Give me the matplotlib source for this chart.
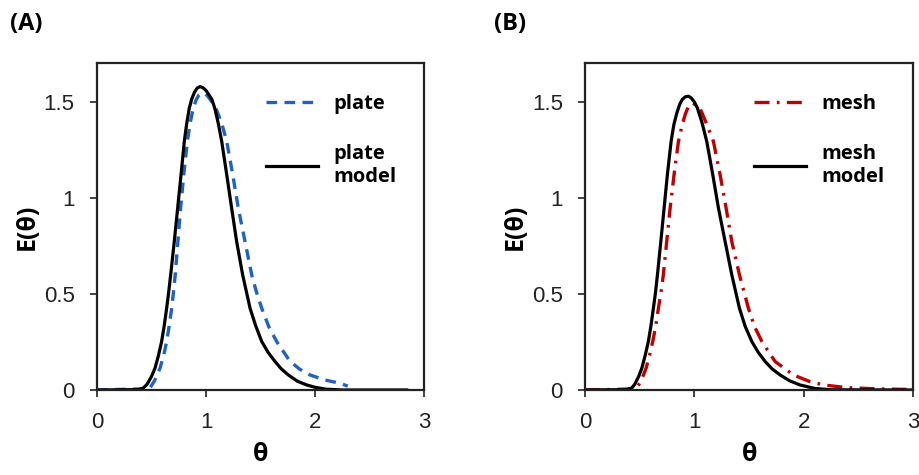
import matplotlib
matplotlib.use("Agg")
import matplotlib.pyplot as plt

# (A) plate: measured curve and model
plate_t = [0.0, 0.15, 0.3, 0.43, 0.486, 0.53, 0.578, 0.612, 0.639, 0.663, 0.685, 0.702,
           0.718, 0.742, 0.767, 0.796, 0.829, 0.855, 0.884, 0.91, 0.935, 0.96, 0.985, 1.01,
           1.04, 1.07, 1.098, 1.145, 1.19, 1.245, 1.296, 1.358, 1.419, 1.465, 1.511, 1.575,
           1.648, 1.771, 1.86, 1.954, 2.09, 2.229, 2.30]
plate_E = [0.0, 0.002, 0.004, 0.006, 0.01, 0.05, 0.113, 0.18, 0.252, 0.335, 0.425, 0.51,
           0.6, 0.772, 0.946, 1.12, 1.293, 1.39, 1.467, 1.51, 1.535, 1.545, 1.543, 1.532,
           1.51, 1.485, 1.455, 1.385, 1.293, 1.12, 0.946, 0.772, 0.599, 0.505, 0.425, 0.33,
           0.252, 0.148, 0.108, 0.078, 0.052, 0.035, 0.02]

plate_model_t = [0.0, 0.38, 0.425, 0.46, 0.50, 0.532, 0.562, 0.593, 0.617, 0.639, 0.658,
                 0.676, 0.709, 0.740, 0.771, 0.801, 0.824, 0.847, 0.87, 0.895, 0.92, 0.945,
                 0.97, 1.0, 1.03, 1.055, 1.083, 1.113, 1.144, 1.19, 1.235, 1.281, 1.336,
                 1.404, 1.455, 1.511, 1.57, 1.633, 1.69, 1.755, 1.84, 1.924, 2.0, 2.1, 2.25,
                 2.84]
plate_model_E = [0.0, 0.002, 0.01, 0.03, 0.07, 0.113, 0.175, 0.252, 0.335, 0.425, 0.51,
                 0.599, 0.772, 0.946, 1.12, 1.293, 1.39, 1.467, 1.515, 1.55, 1.571, 1.578,
                 1.573, 1.558, 1.533, 1.51, 1.46, 1.385, 1.293, 1.12, 0.946, 0.772, 0.599,
                 0.425, 0.335, 0.252, 0.195, 0.148, 0.11, 0.078, 0.045, 0.026, 0.014, 0.004,
                 0.0, 0.0]

# (B) mesh: measured curve and model
mesh_t = [0.0, 0.2, 0.35, 0.43, 0.473, 0.515, 0.558, 0.59, 0.619, 0.647, 0.671, 0.695,
          0.716, 0.747, 0.778, 0.814, 0.854, 0.885, 0.915, 0.945, 0.976, 1.02, 1.05, 1.1,
          1.174, 1.235, 1.29, 1.342, 1.412, 1.494, 1.55, 1.617, 1.738, 1.906, 2.05, 2.18,
          2.4, 2.7, 2.94]
mesh_E = [0.0, 0.002, 0.004, 0.006, 0.01, 0.05, 0.113, 0.18, 0.252, 0.335, 0.425, 0.51,
          0.599, 0.772, 0.946, 1.12, 1.293, 1.37, 1.432, 1.475, 1.493, 1.482, 1.467, 1.4,
          1.293, 1.12, 0.946, 0.772, 0.599, 0.425, 0.33, 0.252, 0.148, 0.078, 0.045, 0.026,
          0.012, 0.005, 0.003]

mesh_model_t = [0.0, 0.38, 0.427, 0.455, 0.49, 0.519, 0.55, 0.579, 0.603, 0.625, 0.645,
                0.662, 0.693, 0.723, 0.753, 0.787, 0.812, 0.839, 0.865, 0.89, 0.917, 0.945,
                0.97, 1.0, 1.027, 1.07, 1.113, 1.168, 1.22, 1.281, 1.342, 1.412, 1.465,
                1.525, 1.585, 1.647, 1.71, 1.784, 1.87, 1.967, 2.1, 2.25, 3.0]
mesh_model_E = [0.0, 0.002, 0.01, 0.03, 0.07, 0.113, 0.18, 0.252, 0.335, 0.425, 0.51,
                0.599, 0.772, 0.946, 1.12, 1.293, 1.38, 1.44, 1.485, 1.512, 1.525, 1.528,
                1.52, 1.498, 1.467, 1.39, 1.293, 1.12, 0.946, 0.772, 0.599, 0.425, 0.33,
                0.252, 0.195, 0.148, 0.11, 0.078, 0.048, 0.026, 0.008, 0.001, 0.0]

x_ticks = [0, 1, 2, 3]
y_ticks = [0, 0.5, 1, 1.5]
y_tick_labels = ["0", "0.5", "1", "1.5"]

BOLD = "Open Sans"
TICK = "Liberation Sans"

fig = plt.figure(figsize=(9.19, 4.75), dpi=100)
axA = fig.add_axes([0.1055, 0.179, 0.356, 0.688])
axB = fig.add_axes([0.6366, 0.179, 0.357, 0.688])


def style(ax):
    ax.set_xlim(0, 3)
    ax.set_ylim(0, 1.7)
    ax.set_xticks(x_ticks)
    ax.set_yticks(y_ticks)
    ax.set_yticklabels(y_tick_labels)
    for s in ax.spines.values():
        s.set_linewidth(1.6)
        s.set_color("#222222")
    ax.tick_params(direction="out", length=5, width=1.2, pad=11, labelsize=16, colors="#222222")
    for lab in ax.get_xticklabels() + ax.get_yticklabels():
        lab.set_fontfamily(TICK)
    ax.set_xlabel("θ", fontsize=18, fontweight="bold", family=BOLD, labelpad=6)
    ax.set_ylabel("E(θ)", fontsize=18, fontweight="bold", family=BOLD, labelpad=3)


# panel A
axA.plot(plate_t, plate_E, ls=(0, (3.2, 2.2)), color="#1f62c2", lw=2.4, label="plate")
axA.plot(plate_model_t, plate_model_E, color="black", lw=2.3, label="plate\nmodel")
style(axA)

# panel B
axB.plot(mesh_t, mesh_E, ls=(0, (4.5, 2.2, 0.8, 2.2)), color="#c00000", lw=2.4, label="mesh")
axB.plot(mesh_model_t, mesh_model_E, color="black", lw=2.3, label="mesh\nmodel")
style(axB)

for ax in (axA, axB):
    ax.legend(loc="upper left", bbox_to_anchor=(0.46, 0.96), frameon=False,
              handlelength=2.6, handletextpad=0.75, labelspacing=1.45,
              prop={"family": BOLD, "weight": "bold", "size": 14.5})

fig.text(0.011, 0.95, "(A)", fontsize=17, fontweight="bold", family=BOLD, va="center")
fig.text(0.538, 0.95, "(B)", fontsize=17, fontweight="bold", family=BOLD, va="center")

fig.savefig("out.png", dpi=100)
